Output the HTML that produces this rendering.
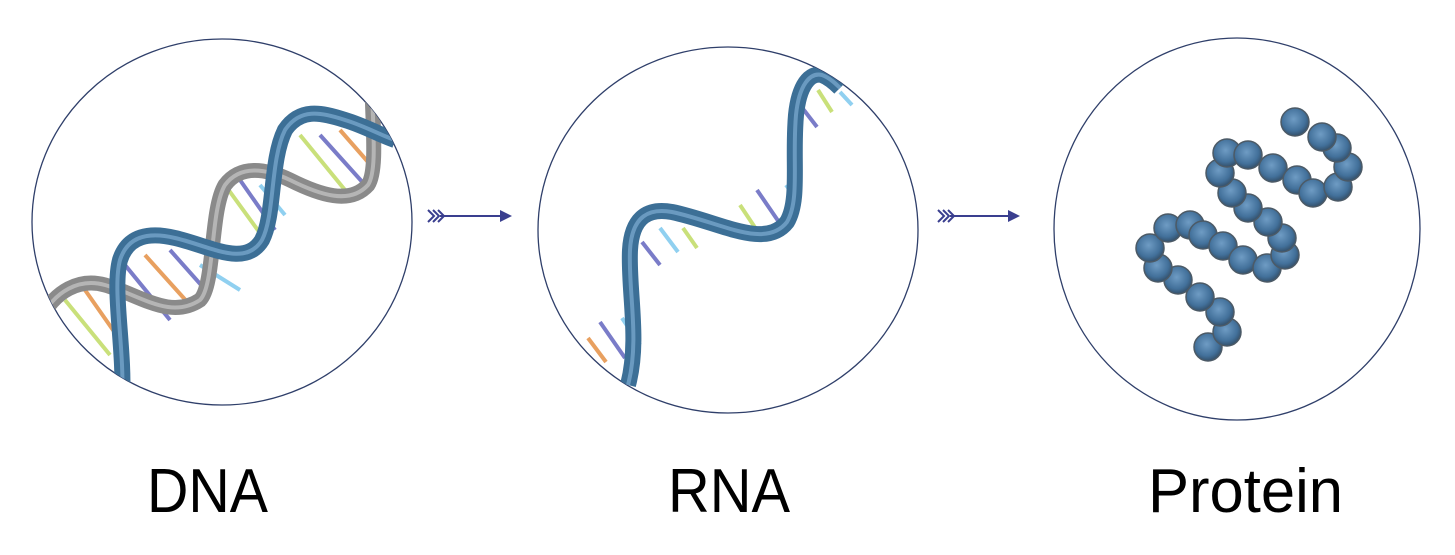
<!DOCTYPE html>
<html><head><meta charset="utf-8"><style>
html,body{margin:0;padding:0;background:#fff;}
svg{display:block;}
</style></head><body>
<svg width="1455" height="555" viewBox="0 0 1455 555" xmlns="http://www.w3.org/2000/svg">
<defs>
<clipPath id="c1"><ellipse cx="222" cy="222" rx="190" ry="183"/></clipPath>
<clipPath id="c2"><ellipse cx="728" cy="230" rx="190" ry="183"/></clipPath>
<radialGradient id="bead" cx="0.45" cy="0.4" r="0.6">
<stop offset="0" stop-color="#6f9cc4"/><stop offset="0.7" stop-color="#42709a"/><stop offset="1" stop-color="#34506a"/>
</radialGradient>
</defs>

<!-- DNA -->
<ellipse cx="222" cy="222" rx="190" ry="183" fill="#fff" stroke="#2f3f6a" stroke-width="1.3"/>
<g clip-path="url(#c1)">
 <g stroke-width="4" stroke-linecap="butt">
  <line x1="65" y1="300" x2="110" y2="355" stroke="#c9e07a"/>
  <line x1="85" y1="290" x2="120" y2="340" stroke="#e8a060"/>
  <line x1="125" y1="265" x2="170" y2="320" stroke="#7a7cc8"/>
  <line x1="145" y1="255" x2="190" y2="305" stroke="#e8a060"/>
  <line x1="170" y1="250" x2="210" y2="295" stroke="#7a7cc8"/>
  <line x1="225" y1="185" x2="265" y2="240" stroke="#c9e07a"/>
  <line x1="240" y1="180" x2="275" y2="230" stroke="#7a7cc8"/>
  <line x1="260" y1="185" x2="285" y2="215" stroke="#90d0f0"/>
  <line x1="300" y1="135" x2="345" y2="190" stroke="#c9e07a"/>
  <line x1="320" y1="135" x2="365" y2="185" stroke="#7a7cc8"/>
  <line x1="340" y1="130" x2="375" y2="170" stroke="#e8a060"/>
  <line x1="200" y1="265" x2="240" y2="290" stroke="#90d0f0"/>
  <line x1="60" y1="330" x2="100" y2="375" stroke="#7a7cc8"/>
 </g>
 <path d="M40,320 C55,290 80,278 105,285 C140,295 170,320 200,300 C215,285 210,210 225,185 C240,165 265,168 290,180 C320,195 350,205 368,185 C378,170 372,120 372,80" fill="none" stroke="#8a8a8a" stroke-width="15"/>
 <path d="M40,320 C55,290 80,278 105,285 C140,295 170,320 200,300 C215,285 210,210 225,185 C240,165 265,168 290,180 C320,195 350,205 368,185 C378,170 372,120 372,80" fill="none" stroke="#b5b5b5" stroke-width="4"/>
 <path d="M122,400 C125,350 112,290 120,260 C128,235 150,232 175,238 C210,246 245,268 262,240 C275,215 270,160 285,130 C300,108 320,112 345,120 C365,126 380,135 395,140" fill="none" stroke="#3c6f96" stroke-width="16"/>
 <path d="M122,400 C125,350 112,290 120,260 C128,235 150,232 175,238 C210,246 245,268 262,240 C275,215 270,160 285,130 C300,108 320,112 345,120 C365,126 380,135 395,140" fill="none" stroke="#6a9ac0" stroke-width="4"/>
</g>

<!-- Arrow 1 -->
<g stroke="#3a3f8f" fill="none" stroke-width="2">
 <line x1="440" y1="216" x2="503" y2="216"/>
 <polyline points="428,210 434,216 428,222"/><polyline points="433,210 439,216 433,222"/><polyline points="438,210 444,216 438,222"/>
</g>
<polygon points="500,210 512,216 500,222" fill="#3a3f8f"/>

<!-- RNA -->
<ellipse cx="728" cy="230" rx="190" ry="183" fill="#fff" stroke="#2f3f6a" stroke-width="1.3"/>
<g clip-path="url(#c2)">
 <g stroke-width="4">
  <line x1="588" y1="338" x2="606" y2="362" stroke="#e8a060"/>
  <line x1="600" y1="322" x2="625" y2="358" stroke="#7a7cc8"/>
  <line x1="622" y1="318" x2="640" y2="345" stroke="#90d0f0"/>
  <line x1="642" y1="242" x2="660" y2="265" stroke="#7a7cc8"/>
  <line x1="660" y1="228" x2="678" y2="252" stroke="#90d0f0"/>
  <line x1="683" y1="228" x2="697" y2="248" stroke="#c9e07a"/>
  <line x1="740" y1="205" x2="762" y2="238" stroke="#c9e07a"/>
  <line x1="757" y1="190" x2="783" y2="228" stroke="#7a7cc8"/>
  <line x1="786" y1="185" x2="797" y2="200" stroke="#90d0f0"/>
  <line x1="800" y1="105" x2="817" y2="127" stroke="#7a7cc8"/>
  <line x1="818" y1="90" x2="832" y2="112" stroke="#c9e07a"/>
  <line x1="840" y1="92" x2="852" y2="105" stroke="#90d0f0"/>
 </g>
 <path d="M628,385 C640,340 628,290 630,250 C632,215 650,208 672,212 C720,222 765,250 787,222 C800,200 792,160 796,115 C799,85 810,72 822,75 C830,78 836,84 840,88" fill="none" stroke="#3c6f96" stroke-width="16"/>
 <path d="M628,385 C640,340 628,290 630,250 C632,215 650,208 672,212 C720,222 765,250 787,222 C800,200 792,160 796,115 C799,85 810,72 822,75 C830,78 836,84 840,88" fill="none" stroke="#6a9ac0" stroke-width="4"/>
</g>

<!-- Arrow 2 -->
<g stroke="#3a3f8f" fill="none" stroke-width="2">
 <line x1="950" y1="216" x2="1011" y2="216"/>
 <polyline points="938,210 944,216 938,222"/><polyline points="943,210 949,216 943,222"/><polyline points="948,210 954,216 948,222"/>
</g>
<polygon points="1008,210 1020,216 1008,222" fill="#3a3f8f"/>

<!-- Protein -->
<ellipse cx="1237" cy="229" rx="183" ry="191" fill="#fff" stroke="#2f3f6a" stroke-width="1.3"/>
<g fill="url(#bead)" stroke="#4c5a66" stroke-width="1.5">
 <circle cx="1208" cy="347" r="14"/><circle cx="1227" cy="332" r="14"/><circle cx="1220" cy="312" r="14"/>
 <circle cx="1200" cy="297" r="14"/><circle cx="1178" cy="280" r="14"/><circle cx="1158" cy="268" r="14"/>
 <circle cx="1150" cy="248" r="14"/><circle cx="1168" cy="228" r="14"/><circle cx="1190" cy="225" r="14"/>
 <circle cx="1203" cy="235" r="14"/><circle cx="1223" cy="246" r="14"/><circle cx="1243" cy="260" r="14"/>
 <circle cx="1267" cy="268" r="14"/><circle cx="1285" cy="255" r="14"/><circle cx="1282" cy="238" r="14"/>
 <circle cx="1268" cy="222" r="14"/><circle cx="1248" cy="208" r="14"/><circle cx="1232" cy="193" r="14"/>
 <circle cx="1220" cy="173" r="14"/><circle cx="1227" cy="153" r="14"/><circle cx="1248" cy="155" r="14"/>
 <circle cx="1273" cy="168" r="14"/><circle cx="1297" cy="180" r="14"/><circle cx="1313" cy="193" r="14"/>
 <circle cx="1338" cy="187" r="14"/><circle cx="1348" cy="167" r="14"/><circle cx="1337" cy="148" r="14"/>
 <circle cx="1322" cy="137" r="14"/><circle cx="1295" cy="122" r="14"/>
</g>

<!-- Labels -->
<g font-family="'Liberation Sans', 'DejaVu Sans', sans-serif" font-size="62" fill="#000">
 <text x="147" y="512" textLength="121" lengthAdjust="spacingAndGlyphs">DNA</text>
 <text x="668" y="512" textLength="122" lengthAdjust="spacingAndGlyphs">RNA</text>
 <text x="1148" y="512" textLength="195" lengthAdjust="spacingAndGlyphs">Protein</text>
</g>
</svg>
</body></html>
